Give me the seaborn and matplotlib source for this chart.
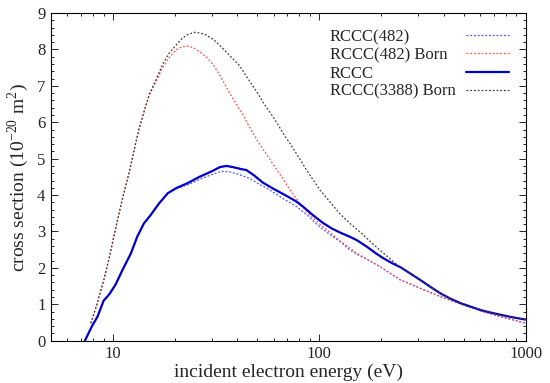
import matplotlib
matplotlib.use('Agg')
import matplotlib.pyplot as plt
import seaborn as sns
import numpy as np
from matplotlib.lines import Line2D
from matplotlib.ticker import LogLocator, FixedLocator, FixedFormatter, MultipleLocator, NullFormatter

# RCCC (solid)
e_rccc = [7.3, 7.9, 8.4, 9.0, 9.6, 10.3, 11.1, 12.2, 13.1, 14.1, 15.2, 16.7, 18.4, 20.2,
          23, 26.2, 30, 33, 35.4, 38, 42, 44.2, 48, 53.3, 60, 69.2, 77, 83.4, 93, 104.4,
          115, 126, 140, 152, 170, 190, 205, 225, 247, 275, 308, 345, 386, 430, 484,
          545, 606, 680, 759, 870, 1000]
s_rccc = [0.0, 0.4, 0.66, 1.1, 1.28, 1.55, 1.94, 2.4, 2.86, 3.22, 3.45, 3.77, 4.05, 4.19,
          4.33, 4.5, 4.65, 4.77, 4.80, 4.77, 4.71, 4.69, 4.55, 4.34, 4.17, 3.98, 3.83, 3.68, 3.45, 3.23,
          3.08, 2.97, 2.86, 2.76, 2.58, 2.38, 2.26, 2.13, 2.02, 1.85, 1.67, 1.48, 1.30, 1.16, 1.03,
          0.93, 0.84, 0.77, 0.71, 0.64, 0.58]

# RCCC(482)
e_482 = [7.3, 7.9, 8.4, 9.0, 9.6, 10.3, 11.1, 12.2, 13.1, 14.1, 15.2, 16.7, 18.4, 20.2,
         23, 26.2, 30, 33.4, 36.7, 40, 45.8, 51, 57.5, 66, 77.6, 86.6, 97, 108.5, 126, 140,
         157, 170, 197, 247, 308, 386, 484, 606, 759, 1000]
s_482 = [0.0, 0.4, 0.66, 1.1, 1.28, 1.55, 1.94, 2.4, 2.86, 3.22, 3.45, 3.77, 4.05, 4.17,
         4.28, 4.43, 4.56, 4.65, 4.64, 4.58, 4.46, 4.3, 4.14, 3.92, 3.68, 3.47, 3.2, 2.98, 2.72, 2.5,
         2.33, 2.24, 2.03, 1.67, 1.44, 1.21, 1.01, 0.82, 0.66, 0.48]

# RCCC(482) Born
e_482b = [7.8, 8.3, 9.0, 9.6, 10.3, 11.1, 12.0, 12.9, 13.4, 14.4, 15.0, 16.1, 17.4, 18.7,
          20.2, 21.5, 22.9, 24.5, 26.2, 28.2, 30.4, 33, 36.6, 39.5, 42.7, 45, 50, 55, 60,
          64.3, 72, 80.6, 90, 100.6, 112, 126, 140, 152, 170, 197, 247, 308, 386, 484,
          606, 759, 1000]
s_482b = [0.48, 0.95, 1.65, 2.3, 3.1, 3.9, 4.65, 5.45, 5.85, 6.45, 6.75, 7.1, 7.5, 7.78,
          7.99, 8.07, 8.09, 8.05, 7.94, 7.8, 7.6, 7.28, 6.82, 6.5, 6.2, 5.95, 5.5, 5.15, 4.82,
          4.58, 4.14, 3.77, 3.45, 3.2, 2.98, 2.74, 2.55, 2.40, 2.24, 2.03, 1.67, 1.44, 1.21, 1.01,
          0.82, 0.66, 0.48]

# RCCC(3388) Born
e_3388b = [7.8, 8.3, 9.0, 9.6, 10.3, 11.1, 12.0, 12.9, 13.4, 14.4, 15.0, 16.1, 17.4, 18.7,
           20.2, 21.7, 23, 24.8, 26.5, 28.2, 31, 34, 37.5, 41.1, 45, 49.4, 54, 59.8, 64.3,
           68, 72, 80.6, 86.6, 100.6, 113, 126, 142, 160, 180, 200, 214, 233, 247, 275,
           308, 345, 386, 430, 484, 545, 606, 680, 759, 870, 1000]
s_3388b = [0.48, 0.95, 1.65, 2.3, 3.1, 3.9, 4.65, 5.45, 5.85, 6.45, 6.78, 7.15, 7.6, 7.9,
           8.12, 8.31, 8.41, 8.47, 8.45, 8.40, 8.25, 8.03, 7.78, 7.55, 7.2, 6.86, 6.5, 6.14, 5.85,
           5.62, 5.42, 4.98, 4.69, 4.14, 3.8, 3.48, 3.2, 2.95, 2.68, 2.45, 2.31, 2.13, 2.02, 1.85,
           1.67, 1.48, 1.30, 1.16, 1.03, 0.93, 0.84, 0.77, 0.71, 0.64, 0.58]

labels = ['RCCC(482)', 'RCCC(482) Born', 'RCCC', 'RCCC(3388) Born']

sns.set_style("ticks")
plt.rcParams['font.family'] = ['Liberation Serif', 'DejaVu Serif']
plt.rcParams['mathtext.fontset'] = 'stix'
plt.rcParams['xtick.direction'] = 'in'
plt.rcParams['ytick.direction'] = 'in'

fig = plt.figure(figsize=(5.5, 3.83), dpi=100)
ax = fig.add_axes([0.0927, 0.1104, 0.8631, 0.8556])

dot = (0, (1.5, 1.5))
sns.lineplot(x=e_482, y=s_482, ax=ax, color='#5050ff', linewidth=0.9, linestyle=dot,
             label=labels[0], sort=False)
sns.lineplot(x=e_482b, y=s_482b, ax=ax, color='#ff5050', linewidth=0.9, linestyle=dot,
             label=labels[1], sort=False)
sns.lineplot(x=e_rccc, y=s_rccc, ax=ax, color='#0000cc', linewidth=1.6, linestyle='-',
             label=labels[2], sort=False)
sns.lineplot(x=e_3388b, y=s_3388b, ax=ax, color='#404040', linewidth=0.9, linestyle=dot,
             label=labels[3], sort=False)

ax.set_xscale('log')
ax.set_xlim(5, 1000)
ax.set_ylim(0, 9)
ax.xaxis.set_major_locator(FixedLocator([10, 100, 1000]))
ax.xaxis.set_major_formatter(FixedFormatter(['10', '100', '1000']))
ax.xaxis.set_minor_locator(LogLocator(base=10, subs=np.arange(2, 10)))
ax.xaxis.set_minor_formatter(NullFormatter())
ax.yaxis.set_major_locator(MultipleLocator(1))
ax.yaxis.set_minor_locator(MultipleLocator(0.2))
ax.tick_params(which='both', top=True, right=True, labelsize=12, color='black', width=0.6)
ax.tick_params(which='major', length=5, pad=4)
ax.tick_params(which='minor', length=2.5)
for sp in ax.spines.values():
    sp.set_linewidth(0.8)
    sp.set_color('black')

ax.set_xlabel('incident electron energy (eV)', fontsize=14, labelpad=1)
ax.set_ylabel('cross section (10$^{\\mathregular{-20}}$ m$^{\\mathregular{2}}$)', fontsize=14, labelpad=4)

# gnuplot-style key: left-aligned text, samples on the right
handles, _ = ax.get_legend_handles_labels()
ax.get_legend().remove()
top = 0.951
key_common = dict(frameon=False, fontsize=12, labelspacing=0.135, borderpad=0, borderaxespad=0)
leg_lines = ax.legend(handles, [''] * len(handles), loc='upper right', bbox_to_anchor=(0.9655, top),
                      handlelength=2.6, handletextpad=0, markerfirst=True, **key_common)
ax.add_artist(leg_lines)
blank = [Line2D([], [], linestyle='none') for _ in labels]
ax.legend(blank, labels, loc='upper left', bbox_to_anchor=(0.5877, top),
          handlelength=0, handletextpad=0, **key_common)

fig.savefig('out.png', dpi=100)
